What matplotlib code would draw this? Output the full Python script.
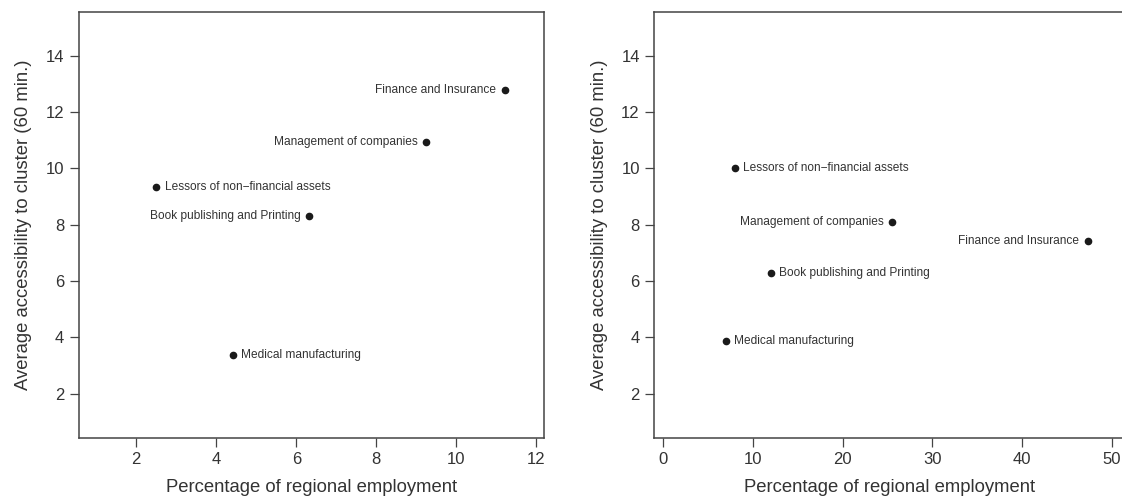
import matplotlib.pyplot as plt

plt.rcParams['font.family'] = ['Liberation Sans', 'DejaVu Sans']

# values
sectors = ["Finance and Insurance", "Management of companies",
           "Lessors of non\u2212financial assets", "Book publishing and Printing",
           "Medical manufacturing"]

left_emp = [11.21, 9.25, 2.50, 6.31, 4.41]
left_acc = [12.79, 10.93, 9.35, 8.31, 3.37]
left_side = ["left", "left", "right", "left", "right"]

right_emp = [47.3, 25.5, 8.0, 12.0, 7.0]
right_acc = [7.43, 8.11, 10.0, 6.27, 3.88]
right_side = ["left", "left", "right", "right", "right"]

left_xticks = [2, 4, 6, 8, 10, 12]
right_xticks = [0, 10, 20, 30, 40, 50]
yticks = [2, 4, 6, 8, 10, 12, 14]

text_col = "#333333"
axis_col = "#444444"


def draw(ax, x, y, sides, xticks, xlim):
    ax.plot(x, y, "o", color="#1a1a1a", markersize=4.5, linestyle="none")
    for xi, yi, name, side in zip(x, y, sectors, sides):
        dx = -6 if side == "left" else 6
        ha = "right" if side == "left" else "left"
        ax.annotate(name, (xi, yi), xytext=(dx, 0), textcoords="offset points",
                    ha=ha, va="center", fontsize=8.6, color=text_col)
    ax.set_xlim(*xlim)
    ax.set_ylim(0.44, 15.56)
    ax.set_xticks(xticks)
    ax.set_yticks(yticks)
    ax.tick_params(direction="out", length=6.5, width=0.9, colors=axis_col,
                   labelcolor=text_col, labelsize=12, pad=4)
    for s in ax.spines.values():
        s.set_color(axis_col)
        s.set_linewidth(1.1)
    # the reference almost clips this label at the bottom edge; keep it just inside
    ax.set_xlabel("Percentage of regional employment", fontsize=13.3,
                  color=text_col, labelpad=8.5)
    ax.set_ylabel("Average accessibility to cluster (60 min.)", fontsize=13.3,
                  color=text_col, labelpad=9.5)


fig = plt.figure(figsize=(11.22, 4.98), dpi=100)
ax1 = fig.add_axes([0.0701, 0.1211, 0.4147, 0.8554])
ax2 = fig.add_axes([0.5832, 0.1211, 0.4194, 0.8554])

draw(ax1, left_emp, left_acc, left_side, left_xticks, (0.56, 12.19))
draw(ax2, right_emp, right_acc, right_side, right_xticks, (-0.96, 51.44))

fig.savefig("out.png", dpi=100)
